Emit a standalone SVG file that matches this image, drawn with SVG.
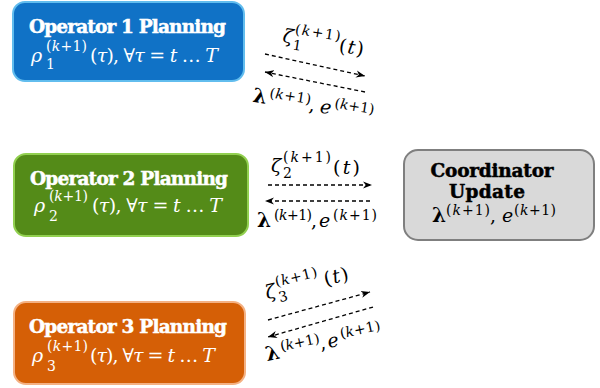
<svg xmlns="http://www.w3.org/2000/svg" width="600" height="388" viewBox="0 0 600 388">
<defs>
<style>
.title{font-family:"DejaVu Serif",serif;font-weight:bold;font-size:18.5px;text-anchor:middle;stroke-width:0.5px}
.m{font-family:"DejaVu Serif",serif;font-size:19px}
.s{font-size:14px}
.i{font-style:italic}
.b{font-weight:bold;font-size:20px}
.w{fill:#ffffff}
.title.w{stroke:#ffffff}
.title.k{stroke:#000000}
.k{fill:#000000}
.dash{fill:none;stroke:#000;stroke-width:1.3;stroke-dasharray:4 3;marker-end:url(#ah)}
</style>
<marker id="ah" viewBox="0 0 10 8" refX="10" refY="4" markerWidth="9" markerHeight="8" markerUnits="userSpaceOnUse" orient="auto">
<path d="M0,0 L10,4 L0,8 L3,4 z" fill="#000"/>
</marker>
</defs>
<rect width="600" height="388" fill="#ffffff"/>

<g id="op1">
<rect x="13" y="2" width="231" height="79" rx="12" fill="#1072c6" stroke="#62bdee" stroke-width="2"/>
<text class="title w" x="127.5" y="33" textLength="197">Operator 1 Planning</text>
<text class="m w i" x="31" y="62">ρ</text>
<text class="m s w" x="46" y="51" textLength="41">(<tspan class="i">k</tspan>+1)</text>
<text class="m s w" x="46" y="69">1</text>
<text class="m w" x="90" y="62" textLength="128">(<tspan class="i">τ</tspan>), ∀<tspan class="i">τ</tspan> = <tspan class="i">t</tspan> … <tspan class="i">T</tspan></text>
</g>

<g id="op2">
<rect x="14" y="154" width="234" height="82" rx="12" fill="#548b18" stroke="#92d050" stroke-width="2"/>
<text class="title w" x="129" y="185" textLength="198">Operator 2 Planning</text>
<text class="m w i" x="34" y="212">ρ</text>
<text class="m s w" x="49" y="201" textLength="39">(<tspan class="i">k</tspan>+1)</text>
<text class="m s w" x="49" y="221">2</text>
<text class="m w" x="92" y="212" textLength="130">(<tspan class="i">τ</tspan>), ∀<tspan class="i">τ</tspan> = <tspan class="i">t</tspan> … <tspan class="i">T</tspan></text>
</g>

<g id="op3">
<rect x="14" y="302" width="231" height="82" rx="12" fill="#d55f06" stroke="#f4b183" stroke-width="2"/>
<text class="title w" x="128" y="333" textLength="198">Operator 3 Planning</text>
<text class="m w i" x="32" y="362">ρ</text>
<text class="m s w" x="47" y="351" textLength="41">(<tspan class="i">k</tspan>+1)</text>
<text class="m s w" x="47" y="371">3</text>
<text class="m w" x="90" y="362" textLength="125">(<tspan class="i">τ</tspan>), ∀<tspan class="i">τ</tspan> = <tspan class="i">t</tspan> … <tspan class="i">T</tspan></text>
</g>

<g id="coordinator">
<rect x="404" y="150" width="190" height="90" rx="14" fill="#d9d9d9" stroke="#7f7f7f" stroke-width="2"/>
<text class="title k" x="492" y="177" textLength="123">Coordinator</text>
<text class="title k" x="487" y="198" textLength="76">Update</text>
<text class="m k b" x="432" y="222">λ</text>
<text class="m s k" x="446" y="215" textLength="44">(<tspan class="i">k</tspan>+1)</text>
<text class="m k" x="490" y="222">,</text>
<text class="m k i" x="502" y="222">e</text>
<text class="m s k" x="514" y="215" textLength="42">(<tspan class="i">k</tspan>+1)</text>
</g>

<g id="connectors">
<path class="dash" d="M265,54 L365,76"/>
<path class="dash" d="M365,92 L265,72"/>
<path class="dash" d="M268,185 L372,185"/>
<path class="dash" d="M370,201 L265,201"/>
<path class="dash" d="M268,320 L370,292"/>
<path class="dash" d="M373,307 L268,337"/>
</g>

<g id="labels">
<g transform="rotate(9 283 42)">
<text class="m k i" x="282" y="42" font-size="20">ζ</text>
<text class="m s k" x="293" y="32" textLength="46">(<tspan class="i">k</tspan>+1)</text>
<text class="m s k" x="293" y="48">1</text>
<text class="m k" x="339" y="43" textLength="25">(<tspan class="i">t</tspan>)</text>
</g>
<g transform="rotate(9 253 102)">
<text class="m k b" x="252" y="102">λ</text>
<text class="m s k" x="268" y="95" textLength="42">(<tspan class="i">k</tspan>+1)</text>
<text class="m k" x="309" y="102">,</text>
<text class="m k i" x="320" y="102">e</text>
<text class="m s k" x="334" y="95" textLength="40">(<tspan class="i">k</tspan>+1)</text>
</g>

<text class="m k i" x="271" y="172" font-size="20">ζ</text>
<text class="m s k" x="283" y="162" textLength="48">(<tspan class="i">k</tspan>+1)</text>
<text class="m s k" x="283" y="178">2</text>
<text class="m k" x="333" y="174" textLength="27">(<tspan class="i">t</tspan>)</text>

<text class="m k b" x="257" y="227">λ</text>
<text class="m s k" x="274" y="220" textLength="38">(<tspan class="i">k</tspan>+1)</text>
<text class="m k" x="311" y="227">,</text>
<text class="m k i" x="319" y="227">e</text>
<text class="m s k" x="333" y="220" textLength="44">(<tspan class="i">k</tspan>+1)</text>

<g transform="rotate(-14 268 299)">
<text class="m k i" x="267" y="299" font-size="20">ζ</text>
<text class="m s k" x="279" y="289" textLength="43">(<tspan class="i">k</tspan>+1)</text>
<text class="m s k" x="279" y="305">3</text>
<text class="m k" x="327" y="300" textLength="25">(<tspan class="i">t</tspan>)</text>
</g>
<g transform="rotate(-12 268 361)">
<text class="m k b" x="267" y="361">λ</text>
<text class="m s k" x="283" y="354" textLength="40">(<tspan class="i">k</tspan>+1)</text>
<text class="m k" x="322" y="361">,</text>
<text class="m k i" x="330" y="361">e</text>
<text class="m s k" x="344" y="354" textLength="41">(<tspan class="i">k</tspan>+1)</text>
</g>
</g>
</svg>
